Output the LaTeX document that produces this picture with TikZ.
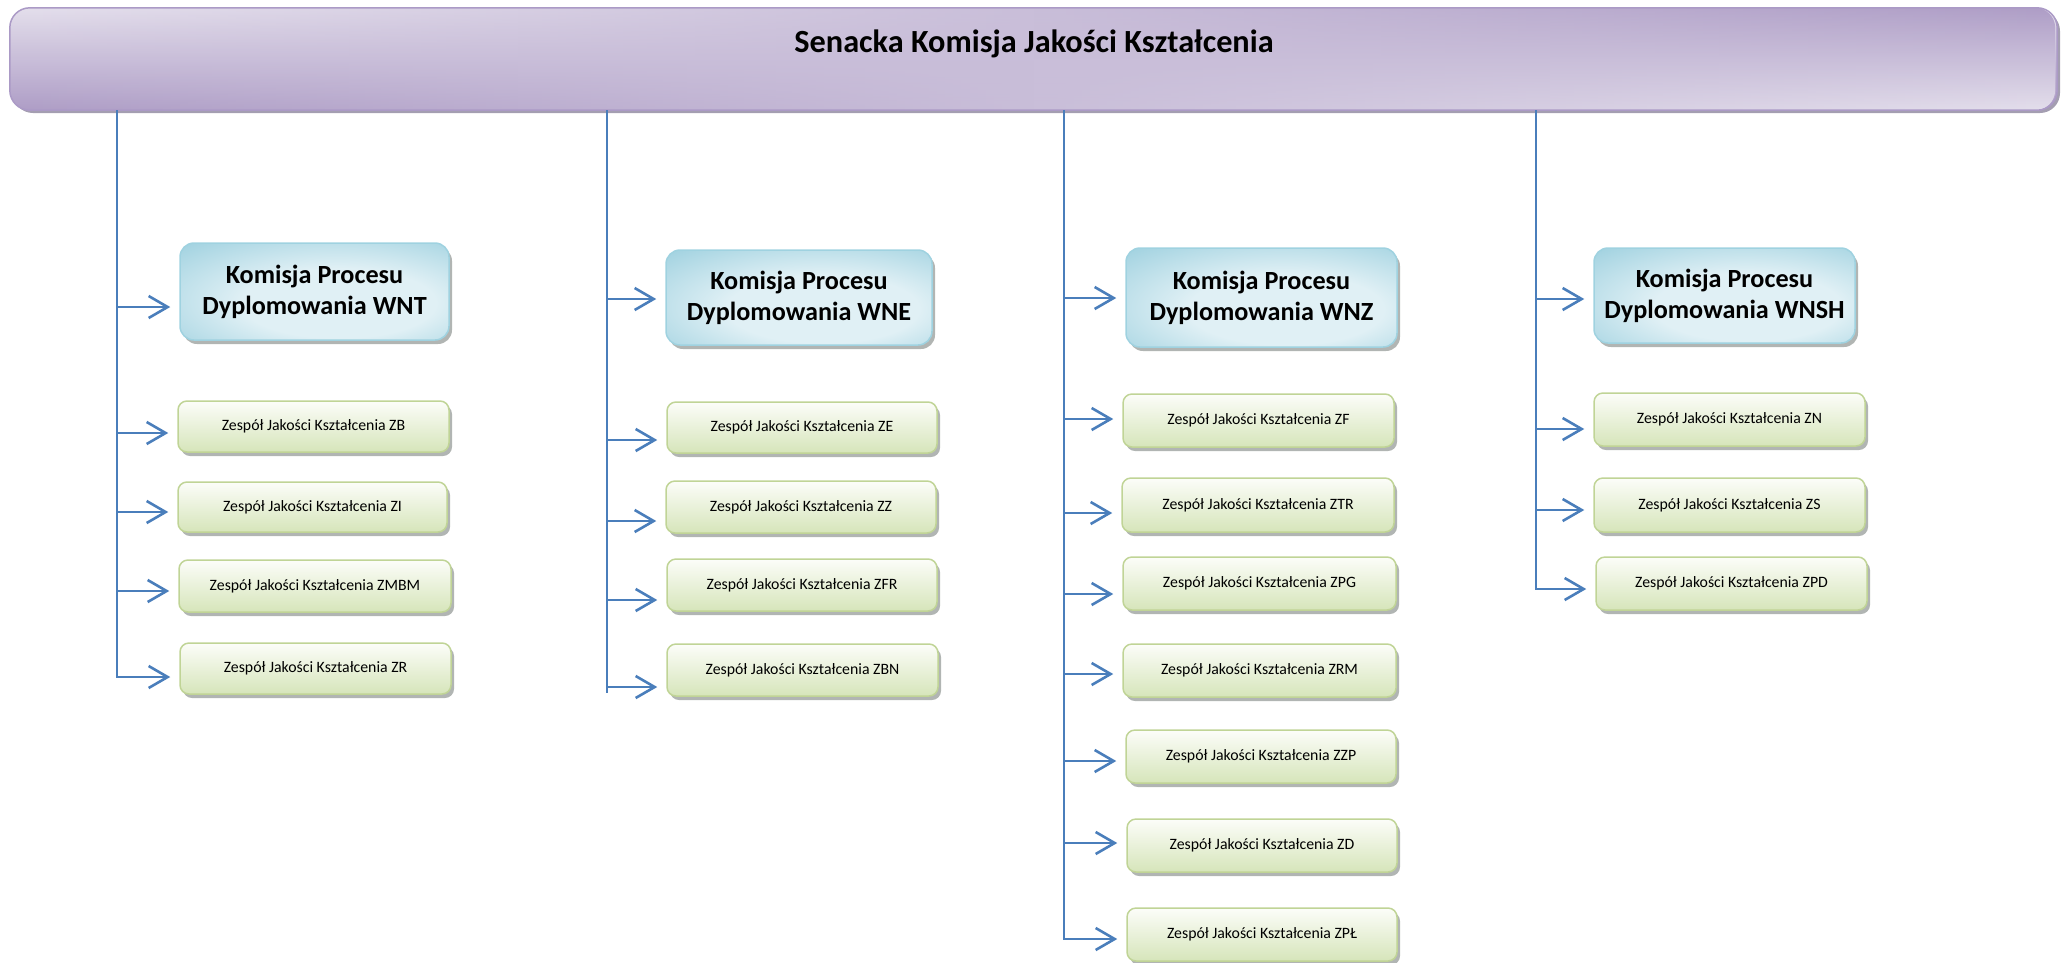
\documentclass[tikz,border=0pt]{standalone}
\usepackage{fontspec}
\setmainfont{Carlito}
\usetikzlibrary{arrows.meta,shadows,fadings}
\definecolor{lineblue}{HTML}{4A7EBB}
\definecolor{hL}{HTML}{E4DFEC}
\definecolor{hD}{HTML}{AE9DC6}
\definecolor{hB}{HTML}{AB9AC6}
\definecolor{bIn}{HTML}{E0F0F5}
\definecolor{bOut}{HTML}{88C6D8}
\definecolor{bB}{HTML}{9FD2E0}
\definecolor{gTop}{HTML}{FCFDF9}
\definecolor{gBot}{HTML}{D6E5BA}
\definecolor{gB}{HTML}{C0D496}
\definecolor{shd}{HTML}{9EA3A0}
\definecolor{hshd}{HTML}{9A93A8}
\tikzfading[name=hfade, left color=transparent!100, middle color=transparent!80, right color=transparent!0]
\pgfdeclareradialshading{bluebox}{\pgfpoint{6bp}{-8bp}}{color(0bp)=(bIn); color(18bp)=(bIn); color(48bp)=(bOut); color(72bp)=(bOut)}
\begin{document}
\begin{tikzpicture}[x=1pt,y=-1pt,
  trunk/.style={draw=lineblue, line width=2.2pt},
  arr/.style={draw=lineblue, line width=2.2pt, -{Straight Barb[length=19pt,width=22pt,line width=2.6pt]}, shorten >=9pt},
  hdr/.style={rounded corners=20pt, minimum width=2047pt, minimum height=102pt, inner sep=0pt, top color=hL, bottom color=hD, drop shadow={shadow xshift=3pt, shadow yshift=-3pt, fill=hshd, opacity=.9}},
  ttl/.style={font=\fontsize{32.3}{38}\selectfont\bfseries, inner sep=0pt},
  kom/.style={rounded corners=14pt, draw=bB, line width=1.5pt, shade, shading=bluebox, drop shadow={shadow xshift=3pt, shadow yshift=-4pt, fill=shd, opacity=.8}, align=center, font=\fontsize{26.2}{31}\selectfont\bfseries, inner sep=0pt},
  zes/.style={rounded corners=9pt, draw=gB, line width=1.5pt, top color=gTop, bottom color=gBot, drop shadow={shadow xshift=3pt, shadow yshift=-4pt, fill=shd, opacity=.8}, font=\fontsize{15.8}{19}\selectfont, inner sep=0pt, minimum width=271pt, minimum height=51pt},
]
\useasboundingbox (0,0) rectangle (2065,962);
% header
\node[hdr] (top) at (1033.5,59) {};
\path[rounded corners=20pt, top color=hD, bottom color=hL, path fading=hfade] (top.north west) rectangle (top.south east);
\draw[hB, line width=1.5pt, rounded corners=20pt] (top.north west) rectangle (top.south east);
\node[ttl] (toptext) at (1034,44) {Senacka Komisja Jakości Kształcenia};

% column 1
\node[kom, minimum width=269pt, minimum height=97pt] (wnt) at (314.5,291.5) {Komisja Procesu\\Dyplomowania WNT};
\node[zes] (zb) at (313.5,426.5) {Zespół Jakości Kształcenia ZB};
\node[zes, minimum width=269pt, minimum height=50pt] (zi) at (312.5,507) {Zespół Jakości Kształcenia ZI};
\node[zes, minimum width=272pt, minimum height=52pt] (zmbm) at (315,586) {Zespół Jakości Kształcenia ZMBM};
\node[zes] (zr) at (315.5,668.5) {Zespół Jakości Kształcenia ZR};

% column 2
\node[kom, minimum width=266pt, minimum height=95pt] (wne) at (799,297.5) {Komisja Procesu\\Dyplomowania WNE};
\node[zes, minimum width=270pt] (ze) at (802,427.5) {Zespół Jakości Kształcenia ZE};
\node[zes, minimum width=270pt, minimum height=52pt] (zz) at (801,507) {Zespół Jakości Kształcenia ZZ};
\node[zes, minimum width=270pt, minimum height=52pt] (zfr) at (802,585) {Zespół Jakości Kształcenia ZFR};
\node[zes, minimum height=52pt] (zbn) at (802.5,670) {Zespół Jakości Kształcenia ZBN};

% column 3
\node[kom, minimum width=271pt, minimum height=99pt] (wnz) at (1261.5,297.5) {Komisja Procesu\\Dyplomowania WNZ};
\node[zes, minimum height=53pt] (zf) at (1258.5,420.5) {Zespół Jakości Kształcenia ZF};
\node[zes, minimum width=272pt, minimum height=54pt] (ztr) at (1258,505) {Zespół Jakości Kształcenia ZTR};
\node[zes, minimum width=273pt, minimum height=53pt] (zpg) at (1259.5,583.5) {Zespół Jakości Kształcenia ZPG};
\node[zes, minimum width=273pt, minimum height=53pt] (zrm) at (1259.5,670.5) {Zespół Jakości Kształcenia ZRM};
\node[zes, minimum width=270pt, minimum height=53pt] (zzp) at (1261,756.5) {Zespół Jakości Kształcenia ZZP};
\node[zes, minimum width=270pt, minimum height=53pt] (zd) at (1262,845.5) {Zespół Jakości Kształcenia ZD};
\node[zes, minimum width=270pt, minimum height=53pt] (zpl) at (1262,934.5) {Zespół Jakości Kształcenia ZPŁ};

% column 4
\node[kom, minimum width=261pt, minimum height=95pt] (wnsh) at (1724.5,295.5) {Komisja Procesu\\Dyplomowania WNSH};
\node[zes, minimum height=53pt] (zn) at (1729.5,419.5) {Zespół Jakości Kształcenia ZN};
\node[zes, minimum height=54pt] (zs) at (1729.5,505) {Zespół Jakości Kształcenia ZS};
\node[zes, minimum height=53pt] (zpd) at (1731.5,583.5) {Zespół Jakości Kształcenia ZPD};

% arrow start points on the trunks
\coordinate (a-wnt) at (117,307);
\coordinate (a-zb) at (117,433);
\coordinate (a-zi) at (117,512);
\coordinate (a-zmbm) at (117,591);
\coordinate (a-zr) at (117,677);

\coordinate (a-wne) at (607,299);
\coordinate (a-ze) at (607,440);
\coordinate (a-zz) at (607,521);
\coordinate (a-zfr) at (607,600);
\coordinate (a-zbn) at (607,687);
\coordinate (c2end) at (607,693);

\coordinate (a-wnz) at (1064,298);
\coordinate (a-zf) at (1064,419);
\coordinate (a-ztr) at (1064,513);
\coordinate (a-zpg) at (1064,594);
\coordinate (a-zrm) at (1064,674);
\coordinate (a-zzp) at (1064,761);
\coordinate (a-zd) at (1064,843);
\coordinate (a-zpl) at (1064,939);

\coordinate (a-wnsh) at (1536,299);
\coordinate (a-zn) at (1536,429);
\coordinate (a-zs) at (1536,510);
\coordinate (a-zpd) at (1536,589);

% trunks with last arrows
\draw[arr] (top.south -| a-zr) -- (a-zr) -- (a-zr -| zr.west);
\draw[trunk] (top.south -| c2end) -- (c2end);
\draw[arr] (top.south -| a-zpl) -- (a-zpl) -- (a-zpl -| zpl.west);
\draw[arr] (top.south -| a-zpd) -- (a-zpd) -- (a-zpd -| zpd.west);

% other arrows
\foreach \n in {wnt,zb,zi,zmbm,wne,ze,zz,zfr,zbn,wnz,zf,ztr,zpg,zrm,zzp,zd,wnsh,zn,zs}
  \draw[arr] (a-\n) -- (a-\n -| \n.west);
\end{tikzpicture}
\end{document}
